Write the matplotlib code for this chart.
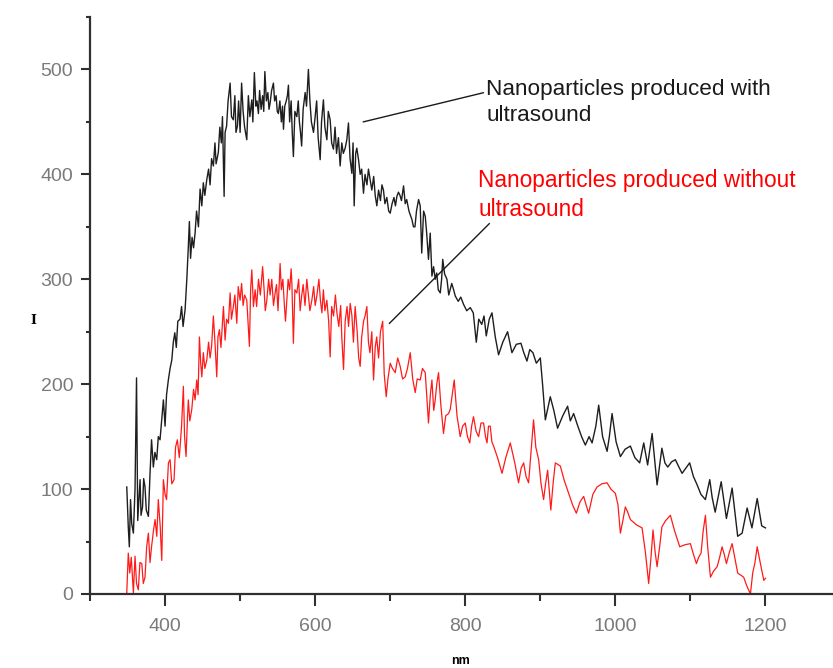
import numpy as np
import matplotlib
matplotlib.use('Agg')
import matplotlib.pyplot as plt
from matplotlib.ticker import MultipleLocator

plt.rcParams['font.family'] = ['Liberation Sans', 'DejaVu Sans']

# Spectrum with ultrasound (black)
wl_with = [349, 351, 352.4, 354, 355.6, 357.8, 360, 362, 363.6, 366.7, 368, 370, 371.5, 373.3, 375,
           377.8, 380, 382, 384.4, 386.5, 388.9, 391, 393.3, 395.5, 397.8, 400, 402, 404.4, 406.7, 409,
           411, 413, 415, 417, 420, 422, 424, 426.7, 429, 431, 432.4, 434, 436, 438, 440,
           442, 444.5, 446.7, 449, 451, 453, 455.6, 458, 460, 462, 464.4, 466.5, 468, 471, 473,
           475, 476.5, 478.7, 480, 482, 484, 486.7, 488.5, 491, 493, 494.5, 496.4, 498, 500, 502,
           504, 506, 508.9, 511, 513, 515.6, 517, 519, 521, 522.5, 524.4, 526, 528, 530, 531.5,
           533, 535, 537, 538.5, 540, 542, 544.4, 546, 548, 549.5, 551, 553, 555, 556.5, 557.8,
           559.5, 561.5, 563, 564.4, 566, 568, 569.5, 571, 573, 575.6, 577.5, 579, 580.5, 582, 584,
           586.7, 588.5, 591, 593, 595, 597.8, 600, 602, 604, 606.7, 608.5, 611, 613, 615.6, 617.5,
           620, 622, 624.4, 626.5, 628.5, 631, 633.3, 635.5, 637.5, 640, 642.2, 644.4, 646.5, 648.9, 650.5,
           652, 654, 655.5, 657.8, 660, 662, 664.4, 666.5, 669, 671, 673.3, 675.5, 678, 680, 682.2,
           684.5, 687, 689, 691, 693, 695.5, 698, 700, 702.5, 705, 707, 708.9, 711, 713, 715,
           717.8, 720, 722, 725, 728.9, 731, 733, 735, 737.8, 740, 742, 744.5, 746.7, 748.5, 751,
           753.3, 755.6, 757.8, 760, 762, 764, 766.7, 768.5, 770, 772.5, 775.6, 778, 782, 784.5, 786.7,
           790.7, 794, 797.8, 802, 806.7, 810.7, 814.7, 818, 822, 825, 828, 832, 835.6, 840, 844.4,
           850, 856.4, 862.2, 868, 874.2, 878, 882.2, 886, 890.2, 894.7, 900, 903, 906.7, 913.3, 918,
           923, 930, 936.4, 940, 944.4, 950, 955, 960, 965, 969, 974, 977.8, 983, 989, 992,
           995.6, 1001, 1006.7, 1013, 1020, 1026, 1032.4, 1037.8, 1043, 1049, 1055.6, 1062, 1066, 1069.8, 1075,
           1080, 1084, 1088.9, 1094, 1099, 1104, 1109, 1114, 1120, 1125.8, 1129, 1133, 1141, 1148, 1155.6,
           1163, 1168.9, 1175.6, 1182, 1189, 1195, 1200]
i_with = [102, 64, 45, 90, 67, 58, 100, 206, 70, 109, 75, 83, 110, 102, 80,
          74, 115, 147, 121, 135, 128, 150, 147, 165, 185, 160, 190, 204, 215, 223,
          240, 249, 235, 260, 262, 274, 255, 271, 300, 331, 355, 320, 340, 330, 344,
          365, 350, 386, 370, 392, 380, 395, 405, 390, 415, 408, 430, 410, 421, 445,
          430, 455, 379, 440, 446, 470, 487, 455, 452, 475, 440, 446, 470, 440, 487,
          460, 445, 433, 475, 455, 471, 450, 497, 465, 470, 458, 480, 462, 475, 460,
          498, 470, 478, 462, 468, 480, 487, 470, 475, 460, 458, 470, 450, 465, 443,
          465, 470, 475, 485, 450, 470, 440, 417, 460, 455, 470, 450, 440, 427, 462,
          478, 465, 500, 470, 450, 440, 455, 470, 435, 414, 450, 471, 445, 433, 460,
          452, 430, 424, 445, 420, 435, 408, 430, 420, 425, 433, 449, 415, 401, 430,
          370, 420, 425, 414, 400, 405, 382, 400, 390, 405, 395, 385, 398, 380, 370,
          385, 375, 390, 385, 372, 378, 365, 363, 372, 378, 370, 379, 383, 380, 375,
          389, 372, 376, 365, 357, 350, 350, 365, 376, 370, 325, 365, 360, 345, 319,
          344, 303, 312, 300, 306, 290, 287, 300, 319, 305, 300, 285, 296, 290, 284,
          279, 283, 276, 270, 273, 268, 240, 262, 257, 265, 246, 262, 268, 245, 228,
          240, 250, 230, 238, 239, 230, 222, 233, 230, 220, 225, 200, 166, 188, 175,
          158, 170, 179, 165, 172, 160, 150, 142, 150, 144, 160, 180, 150, 136, 150,
          172, 145, 131, 138, 141, 130, 125, 144, 123, 153, 104, 139, 125, 121, 126,
          128, 122, 115, 120, 125, 112, 104, 95, 90, 109, 92, 78, 107, 72, 101,
          55, 58, 82, 63, 91, 65, 63]

# Spectrum without ultrasound (red)
wl_without = [349, 351, 353, 355, 357.8, 360, 362, 364.4, 366.5, 369, 371, 373.3, 375.5, 377.8, 380,
              382, 384.5, 386.7, 389, 391, 393.5, 395.6, 397.8, 400, 402, 404.5, 406.7, 409, 412, 414,
              416.4, 419, 422, 424.4, 426, 428, 430, 431, 433, 435.6, 438, 440, 442.2, 444, 445.8,
              447.5, 449, 451, 453, 455.6, 458, 460, 462, 464.4, 466.5, 468.9, 470.5, 472.4, 474.5, 477.8,
              480, 482, 484.4, 486.7, 488.5, 491, 493, 495.6, 497.5, 500, 502, 504, 506, 508.9, 510.5,
              512.4, 514, 515.6, 517.8, 520, 522, 524.5, 527, 530, 532, 533.5, 535.6, 538, 540, 542.2,
              544.5, 546.7, 548.5, 550.5, 553.3, 555, 557, 559, 560.5, 562.2, 564, 566, 568, 569, 571,
              573, 575.6, 578, 580, 582, 584, 586.5, 588.9, 591, 593, 595.6, 598, 600, 602.2, 605,
              607, 609, 611, 613, 615.6, 618, 620, 622, 624.5, 627, 629, 631.5, 634, 635.5, 637.8,
              640, 642.5, 644.5, 646.7, 649, 651, 653.3, 656, 658, 660, 662, 664.5, 666.5, 668.9, 671,
              673, 675.5, 677.8, 680, 682, 684.5, 687, 690, 692, 694.7, 697, 700, 703, 706.7, 710,
              713.3, 716.5, 720, 723, 726.7, 730, 733.3, 736, 740, 743, 746.7, 749, 751, 753.5, 755.6,
              758, 760, 762, 764.4, 767.5, 771, 774, 777.8, 780, 785.3, 789, 793.3, 796.5, 800, 803,
              806, 808.5, 811, 814.5, 817.8, 821, 824.4, 827, 829, 831, 833.3, 835.5, 837.8, 843, 849,
              854, 860, 866, 871, 874.5, 877.8, 881, 884.4, 891, 894, 897.8, 901, 904.4, 907, 909.8,
              914, 917, 920, 926.7, 932, 937.8, 943, 948, 953, 957.8, 961, 964.4, 970, 975.6, 982,
              988.9, 994, 1000, 1003.5, 1006.7, 1010, 1013.3, 1016.5, 1020, 1028, 1035.6, 1040, 1044.4, 1047.5, 1050.2,
              1053, 1055.6, 1059, 1062, 1067, 1073.3, 1079, 1085.8, 1093, 1100, 1104, 1108, 1111, 1114.2, 1117,
              1120, 1123, 1126.7, 1131, 1135.6, 1139, 1142.2, 1145, 1148, 1152, 1155.6, 1159, 1163, 1167, 1171,
              1175, 1180, 1183, 1186, 1189, 1193, 1197.8, 1200]
i_without = [1, 39, 20, 35, 1, 36, 10, 4, 30, 29, 10, 16, 45, 58, 30,
             45, 60, 71, 55, 90, 65, 32, 109, 95, 90, 125, 128, 105, 109, 140,
             147, 130, 160, 198, 150, 131, 170, 185, 165, 176, 195, 185, 204, 190, 245,
             220, 207, 230, 215, 223, 240, 225, 236, 265, 240, 207, 245, 252, 235, 274,
             242, 262, 258, 287, 262, 274, 285, 258, 293, 280, 296, 275, 285, 280, 260,
             236, 290, 309, 274, 290, 274, 300, 285, 312, 290, 270, 280, 300, 285, 300,
             275, 287, 295, 270, 315, 290, 300, 275, 260, 280, 300, 290, 310, 296, 239,
             290, 287, 300, 270, 284, 295, 275, 300, 285, 270, 280, 293, 275, 284, 300,
             280, 268, 290, 270, 280, 260, 226, 274, 265, 285, 268, 255, 275, 245, 214,
             260, 274, 255, 277, 265, 240, 274, 250, 225, 217, 245, 260, 265, 274, 240,
             230, 250, 204, 235, 245, 225, 250, 260, 210, 188, 205, 220, 215, 211, 225,
             217, 205, 207, 215, 230, 205, 192, 205, 204, 215, 211, 185, 163, 190, 204,
             175, 185, 200, 211, 180, 153, 170, 172, 176, 204, 170, 150, 160, 163, 150,
             144, 160, 169, 155, 150, 163, 163, 150, 144, 160, 160, 145, 141, 130, 115,
             130, 144, 125, 106, 120, 125, 112, 106, 166, 140, 128, 105, 90, 105, 118,
             80, 105, 125, 122, 108, 96, 85, 77, 88, 93, 85, 77, 95, 102, 105,
             106, 100, 96, 85, 58, 70, 83, 78, 71, 66, 63, 40, 10, 35, 61,
             40, 26, 45, 64, 70, 75, 60, 45, 47, 48, 38, 29, 35, 39, 60,
             75, 45, 16, 22, 26, 35, 45, 38, 29, 40, 48, 35, 20, 18, 16,
             8, 0, 20, 30, 45, 30, 13, 15]

label_with = 'Nanoparticles produced with\nultrasound'
label_without = 'Nanoparticles produced without\nultrasound'

fig = plt.figure(figsize=(8.33, 6.68), dpi=100)
ax = fig.add_axes([90 / 833, 74 / 668, 1 - 90 / 833, (651 - 74) / 668])

ax.plot(wl_with, i_with, color='#1e1e1e', lw=1.0)
ax.plot(wl_without, i_without, color='#ff1a1a', lw=0.9)

ax.set_xlim(300, 1290)
ax.set_ylim(0, 550)

# axis look: only left/bottom, outward ticks, grey labels
ax.spines['top'].set_visible(False)
ax.spines['right'].set_visible(False)
for side in ['left', 'bottom']:
    ax.spines[side].set_linewidth(1.6)
    ax.spines[side].set_color('#303030')

ax.set_xticks([400, 600, 800, 1000, 1200])
ax.xaxis.set_minor_locator(MultipleLocator(100))
ax.yaxis.set_major_locator(MultipleLocator(100))
ax.yaxis.set_minor_locator(MultipleLocator(50))
ax.tick_params(axis='x', which='major', direction='out', length=8.5, width=1.5,
               color='#303030', labelcolor='#7a7a7a', labelsize=14, pad=9)
ax.tick_params(axis='x', which='minor', direction='out', length=5, width=1.5, color='#303030')
ax.tick_params(axis='y', which='major', direction='out', length=6.5, width=1.5,
               color='#303030', labelcolor='#7a7a7a', labelsize=14, pad=5.5)
ax.tick_params(axis='y', which='minor', direction='out', length=3, width=1.5, color='#303030')

# axis titles
fig.text(33 / 833, 1 - 320 / 668, 'I', fontsize=9, fontweight='bold',
         family=['DejaVu Serif'], ha='center', va='center')
fig.text(460 / 833, 1 - 661 / 668, 'nm', fontsize=9, fontweight='bold', ha='center', va='center')

# callout labels with pointer lines
ax.annotate(label_with, xy=(664, 450), xytext=(828, 468.5), textcoords='data',
            fontsize=16.2, color='#1a1a1a', ha='left', va='center', linespacing=1.35,
            arrowprops=dict(arrowstyle='-', color='#1a1a1a', lw=1.0, shrinkA=0, shrinkB=0,
                            relpos=(0, 0.72)))
ax.annotate(label_without, xy=(699, 258), xytext=(817, 380), textcoords='data',
            fontsize=16.3, color='#ff0000', ha='left', va='center', linespacing=1.35,
            annotation_clip=False)
ax.plot([699, 832], [258, 353], color='#1a1a1a', lw=1.0)

fig.savefig('out.png', dpi=100, facecolor='white')
